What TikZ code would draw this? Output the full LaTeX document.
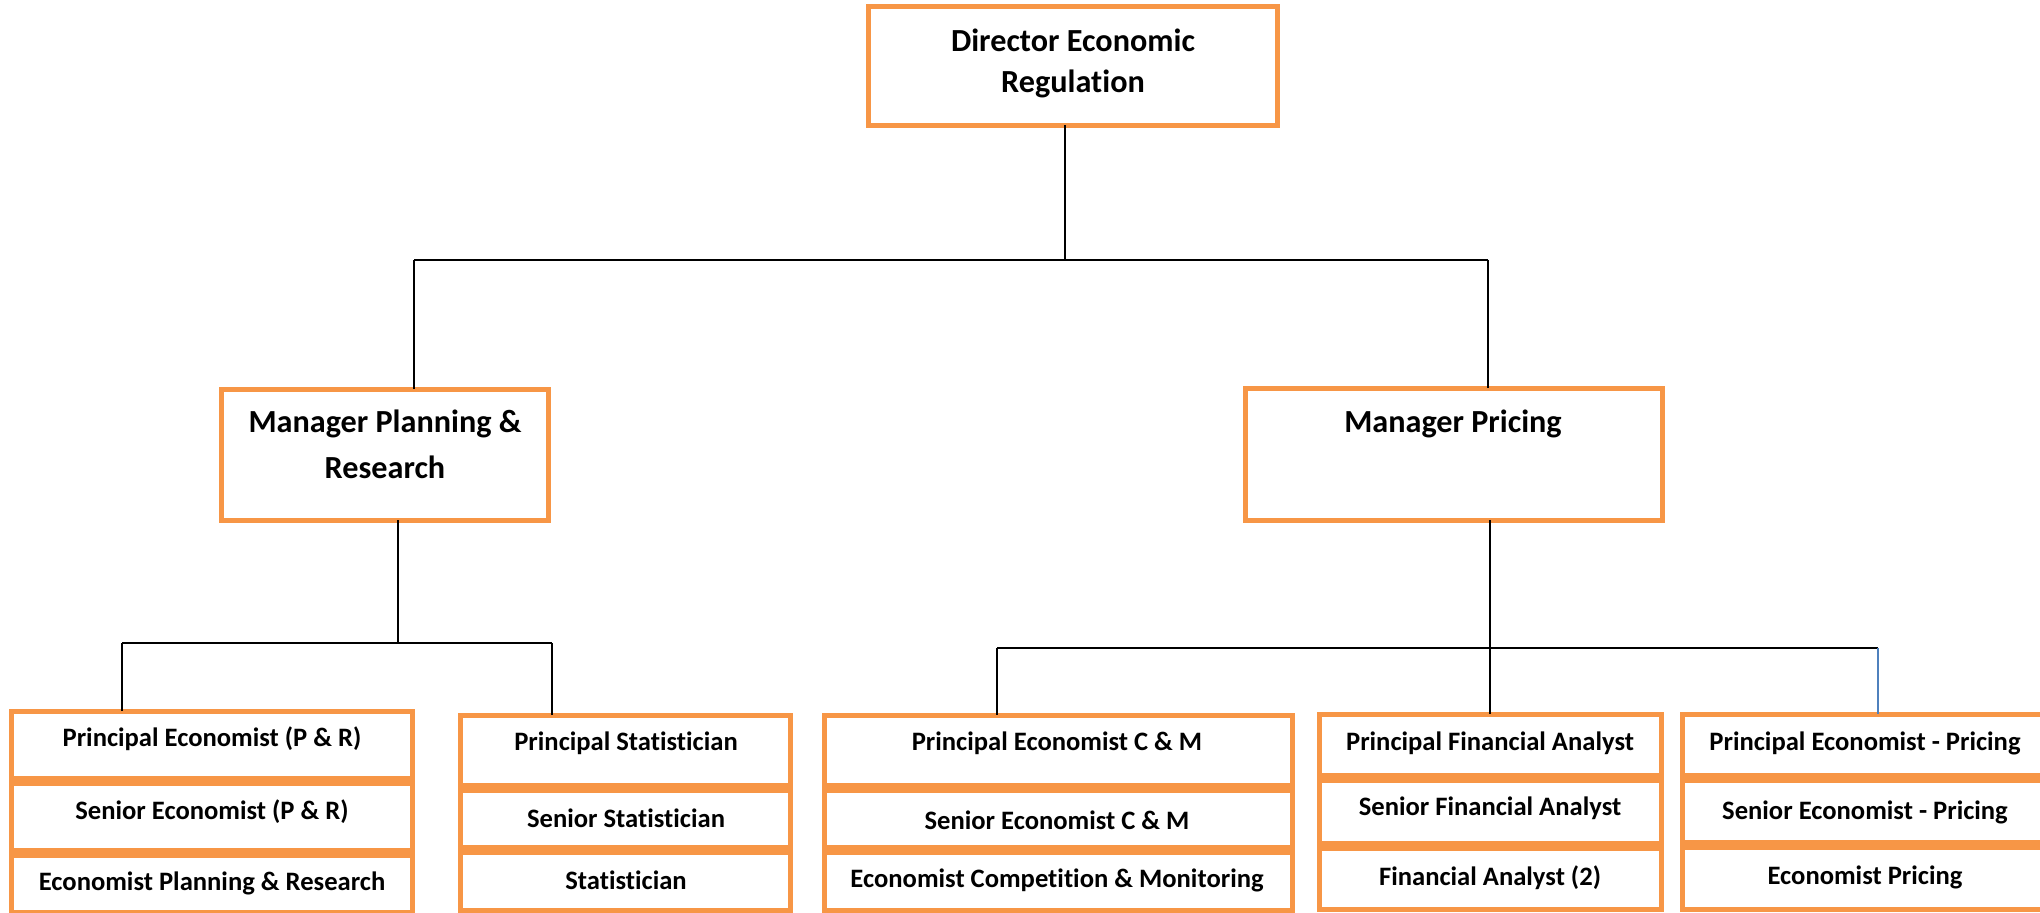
\documentclass[tikz,border=0pt]{standalone}
\usepackage{fontspec}
\setmainfont[Ligatures={NoCommon}]{Carlito}
\definecolor{boxorange}{HTML}{F79646}
\definecolor{lineblue}{HTML}{4F81BD}
\tikzset{
  obox/.style={draw=boxorange, line width=2.5pt, fill=white, rectangle, inner sep=0pt, outer sep=0pt},
  big/.style={font=\bfseries\fontsize{16.1}{19}\selectfont, inner sep=0pt, anchor=center},
  small/.style={font=\bfseries\fontsize{13.3}{16}\selectfont, inner sep=0pt, anchor=center},
  conn/.style={draw=black, line width=1pt},
  connblue/.style={draw=lineblue, line width=0.6pt}
}
% name, cx, cy, w, h (pixels)
\newcommand\obx[5]{\node[obox, minimum width=#4*0.5pt, minimum height=#5*0.5pt] (#1) at (#2,#3) {};}
\begin{document}
\begin{tikzpicture}[x=0.5pt,y=-0.5pt]
\useasboundingbox (0,0) rectangle (2040,913);
% top level
\obx{dir}{1073}{66}{409}{119}
\node[big] (tdir1) at (1073,40) {Director Economic};
\node[big] (tdir2) at (1073,84) {Regulation};
% managers
\obx{mpr}{385}{455}{327}{131}
\node[big] (tmpr1) at (385,424) {Manager Planning \&};
\node[big] (tmpr2) at (385,467) {Research};
\obx{mpc}{1454}{454.5}{417}{132}
\node[big] (tmpc) at (1453,424) {Manager Pricing};
% group 1
\obx{ga1}{212}{745}{401}{67}
\obx{ga2}{212}{817}{401}{67}
\obx{ga3}{212}{884}{401}{57}
\node[small] (ta1) at (212,739) {Principal Economist (P \& R)};
\node[small] (ta2) at (212,812) {Senior Economist (P \& R)};
\node[small] (ta3) at (212,883) {Economist Planning \& Research};
% group 2
\obx{gb1}{625.5}{750.5}{330}{70}
\obx{gb2}{625.5}{819}{330}{57}
\obx{gb3}{625.5}{881.5}{330}{58}
\node[small] (tb1) at (626,743) {Principal Statistician};
\node[small] (tb2) at (626,818) {Senior Statistician};
\node[small] (tb3) at (626,880) {Statistician};
% group 3
\obx{gc1}{1058.5}{750.5}{468}{70}
\obx{gc2}{1058.5}{819}{468}{57}
\obx{gc3}{1058.5}{881.5}{468}{58}
\node[small] (tc1) at (1057,743) {Principal Economist C \& M};
\node[small] (tc2) at (1057,820) {Senior Economist C \& M};
\node[small] (tc3) at (1057,880) {Economist Competition \& Monitoring};
% group 4
\obx{gd1}{1490.5}{745}{342}{61}
\obx{gd2}{1490.5}{812}{342}{63}
\obx{gd3}{1490.5}{879}{342}{61}
\node[small] (td1) at (1490,743) {Principal Financial Analyst};
\node[small] (td2) at (1490,808) {Senior Financial Analyst};
\node[small] (td3) at (1490,878) {Financial Analyst (2)};
% group 5
\obx{ge1}{1865}{745}{365}{61}
\obx{ge2}{1865}{811.5}{365}{62}
\obx{ge3}{1865}{878.5}{365}{62}
\node[small] (te1) at (1865,743) {Principal Economist - Pricing};
\node[small] (te2) at (1865,812) {Senior Economist - Pricing};
\node[small] (te3) at (1865,877) {Economist Pricing};
% connector junctions
\coordinate (j0) at (1065,260);
\coordinate (jL) at (414,260);
\coordinate (jR) at (1488,260);
\coordinate (k0) at (398,643);
\coordinate (kL) at (122,643);
\coordinate (kR) at (552,643);
\coordinate (m0) at (1490,648);
\coordinate (mL) at (997,648);
\coordinate (mR) at (1878,648);
% connectors
\draw[conn] (dir.south -| j0) -- (j0);
\draw[conn] (jL) -- (jR);
\draw[conn] (jL) -- (mpr.north -| jL);
\draw[conn] (jR) -- (mpc.north -| jR);
\draw[conn] (mpr.south -| k0) -- (k0);
\draw[conn] (kL) -- (kR);
\draw[conn] (kL) -- (ga1.north -| kL);
\draw[conn] (kR) -- (gb1.north -| kR);
\draw[conn] (mpc.south -| m0) -- (m0);
\draw[conn] (mL) -- (mR);
\draw[conn] (mL) -- (gc1.north -| mL);
\draw[conn] (m0) -- (gd1.north -| m0);
\draw[connblue] (mR) -- (ge1.north -| mR);
\end{tikzpicture}
\end{document}
